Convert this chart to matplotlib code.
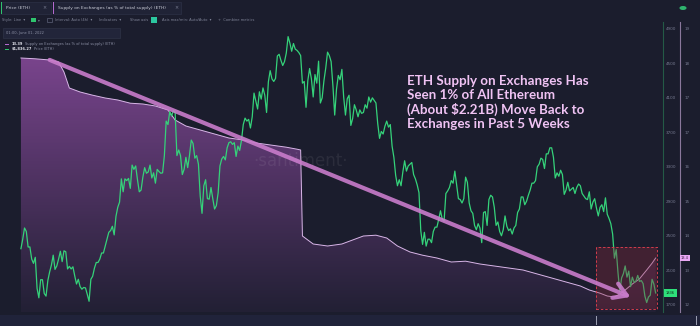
import numpy as np
import pandas as pd
import matplotlib
matplotlib.use('Agg')
import matplotlib.pyplot as plt
import matplotlib.dates as mdates
from matplotlib.colors import LinearSegmentedColormap
from matplotlib.patches import Rectangle
from matplotlib.transforms import blended_transform_factory

# ETH price (USD), daily
price_jun21 = [2350, 2460, 2590, 2550, 2370, 2370, 2230, 2180, 2250, 1890, 1780, 1990, 1990, 1830,
               1800, 1980, 2080, 2160, 2275]
price_jul21 = [2110, 2150, 2230, 2320, 2200, 2325, 2315, 2115, 2145, 2115, 2140, 2035, 1940, 1995,
               1910, 1880, 1900, 1895, 1820, 1740, 1995, 2030, 2125, 2190, 2190, 2230, 2300, 2300,
               2380, 2460, 2540]
price_aug21 = [2560, 2610, 2510, 2725, 2830, 2890, 3160, 3010, 3160, 3140, 3165, 3050, 3320, 3270,
               3310, 3150, 3010, 3030, 3180, 3290, 3225, 3240, 3320, 3170, 3230, 3110, 3270, 3245,
               3225, 3230, 3430]
price_sep21 = [3830, 3790, 3940, 3890, 3950, 3930, 3430, 3495, 3430, 3210, 3270, 3410, 3290, 3430,
               3610, 3570, 3400, 3430, 3330, 2960, 2760, 3080, 3150, 2930, 2925, 3060, 2930, 2810,
               2850, 3000]
price_oct21 = [3310, 3390, 3420, 3380, 3520, 3580, 3590, 3560, 3580, 3420, 3540, 3490, 3605, 3790,
               3865, 3830, 3850, 3750, 3880, 4155, 4060, 3970, 4170, 4085, 4215, 4130, 3930, 4285,
               4415, 4320, 4290]
price_nov21 = [4325, 4585, 4605, 4535, 4475, 4520, 4620, 4810, 4735, 4640, 4730, 4665, 4650, 4625,
               4590, 4270, 4290, 3990, 4300, 4440, 4320, 4110, 4370, 4270, 4525, 4040, 4100, 4300,
               4445, 4630]
price_dec21 = [4590, 4520, 4240, 3900, 4200, 4360, 4310, 4430, 4110, 3900, 4090, 4130, 3780, 3860,
               4020, 3960, 3880, 3960, 3920, 3930, 4020, 3980, 4110, 4050, 4100, 4070, 4040, 3800,
               3630, 3710, 3680]
price_jan22 = [3770, 3830, 3760, 3790, 3540, 3410, 3200, 3080, 3150, 3080, 3240, 3370, 3250, 3310,
               3330, 3350, 3210, 3160, 3090, 3000, 2560, 2400, 2540, 2380, 2460, 2460, 2420, 2550,
               2600, 2600, 2690]
price_feb22 = [2790, 2690, 2670, 2990, 3020, 3060, 3140, 3110, 3250, 3090, 2930, 2920, 2880, 2930,
               3180, 3120, 2880, 2790, 2760, 2620, 2570, 2640, 2590, 2420, 2770, 2780, 2620, 2920]
price_mar22 = [2970, 2950, 2830, 2620, 2660, 2550, 2500, 2570, 2730, 2610, 2560, 2580, 2520, 2590,
               2620, 2770, 2810, 2950, 2950, 2860, 2900, 2970, 3030, 3110, 3110, 3140, 3300, 3330,
               3400, 3385, 3280]
price_apr22 = [3450, 3450, 3520, 3520, 3410, 3170, 3230, 3190, 3260, 3210, 2980, 3030, 3120, 3020,
               3040, 3060, 2990, 3060, 3100, 3080, 2990, 2960, 2930, 2920, 3010, 2810, 2890, 2930,
               2820, 2730]
price_may22 = [2830, 2860, 2780, 2940, 2750, 2700, 2640, 2520, 2240, 2340, 2070, 1850, 2010, 2060,
               2150, 2020, 2090, 1910, 2020, 1960, 1975, 2040, 1970, 1980, 1945, 1800, 1725, 1790,
               1810, 1995, 1940]
price_jun22 = [1836.27]
price_starts = ['2021-06-12', '2021-07-01', '2021-08-01', '2021-09-01', '2021-10-01', '2021-11-01',
                '2021-12-01', '2022-01-01', '2022-02-01', '2022-03-01', '2022-04-01', '2022-05-01',
                '2022-06-01']

# Supply on exchanges (% of total supply)
supply_dates = ['2021-06-12', '2021-06-20', '2021-06-28', '2021-07-03', '2021-07-06', '2021-07-09',
                '2021-07-15', '2021-07-22', '2021-07-29', '2021-08-05', '2021-08-12', '2021-08-19',
                '2021-08-26', '2021-09-02', '2021-09-06', '2021-09-12', '2021-09-20', '2021-09-28',
                '2021-10-06', '2021-10-14', '2021-10-22', '2021-10-30', '2021-11-07', '2021-11-13',
                '2021-11-15', '2021-11-16', '2021-11-22', '2021-11-30', '2021-12-08', '2021-12-14',
                '2021-12-20', '2021-12-27', '2022-01-02', '2022-01-08', '2022-01-15', '2022-01-22',
                '2022-01-30', '2022-02-07', '2022-02-15', '2022-02-23', '2022-03-03', '2022-03-11',
                '2022-03-19', '2022-03-27', '2022-04-04', '2022-04-12', '2022-04-20', '2022-04-25',
                '2022-05-01', '2022-05-05', '2022-05-09', '2022-05-12', '2022-05-15', '2022-05-19',
                '2022-05-23', '2022-05-27', '2022-05-30', '2022-06-01']
supply_vals = [18.39, 18.37, 18.34, 18.29, 18.04, 17.64, 17.54, 17.46, 17.39, 17.34, 17.26, 17.24,
               17.19, 17.09, 16.84, 16.69, 16.59, 16.49, 16.39, 16.34, 16.26, 16.21, 16.16, 16.11,
               16.09, 13.94, 13.74, 13.69, 13.74, 13.84, 13.94, 13.96, 13.89, 13.69, 13.54, 13.46,
               13.39, 13.29, 13.31, 13.24, 13.19, 13.14, 13.09, 12.99, 12.89, 12.79, 12.69, 12.59,
               12.51, 12.44, 12.415, 12.49, 12.59, 12.74, 12.87, 13.09, 13.26, 13.39]

x_ticks = ['2021-06-07', '2021-07-01', '2021-08-01', '2021-09-01', '2021-10-01', '2021-11-01',
           '2021-12-01', '2022-01-01', '2022-02-01', '2022-03-01', '2022-04-01', '2022-05-01']
x_labels = ['07 Jun 21', '01 Jul 21', '01 Aug 21', '01 Sep 21', '01 Oct 21', '01 Nov 21',
            '01 Dec 21', '01 Jan 22', '01 Feb 22', '01 Mar 22', '01 Apr 22', '01 May 22']
price_ticks = [1700, 2100, 2500, 2900, 3300, 3700, 4100, 4500, 4900]

BG = '#1b1d2d'
GREEN = '#35d27a'
LILAC = '#d9b6e8'
W, H = 700, 326


def fx(x):
    return x / W


def fy(y):
    return 1 - y / H


price_dates = np.concatenate([pd.date_range(s, periods=len(v), freq='D').values
                              for s, v in zip(price_starts, [price_jun21, price_jul21, price_aug21,
                                                             price_sep21, price_oct21, price_nov21,
                                                             price_dec21, price_jan22, price_feb22,
                                                             price_mar22, price_apr22, price_may22,
                                                             price_jun22])])
price_vals = np.concatenate([price_jun21, price_jul21, price_aug21, price_sep21, price_oct21,
                             price_nov21, price_dec21, price_jan22, price_feb22, price_mar22,
                             price_apr22, price_may22, price_jun22])
px = mdates.date2num(price_dates)
sx = mdates.date2num(pd.to_datetime(supply_dates))
sv = np.array(supply_vals)

fig = plt.figure(figsize=(7, 3.26), dpi=100, facecolor=BG)

# main axes: price on top, supply behind
ax = fig.add_axes([0, fy(312), fx(660), (312 - 22) / H])
ax2 = ax.twinx()
ax.set_zorder(ax2.get_zorder() + 1)
ax.patch.set_visible(False)
ax2.patch.set_visible(False)

ppd = 1.793  # pixels per day
x0 = mdates.date2num(pd.Timestamp('2021-07-01')) - 55 / ppd
x1 = x0 + 660 / ppd
ax.set_xlim(x0, x1)
ax.set_ylim(1615.6, 4979.6)
ax2.set_ylim(12.04, 19.29)

# supply fill with vertical gradient
poly = ax2.fill_between(sx, sv, 12.04, color='none', lw=0)
cmap = LinearSegmentedColormap.from_list('sup', [(0.60, 0.32, 0.68, 0.06), (0.62, 0.33, 0.70, 0.82)])
grad = np.linspace(0, 1, 256).reshape(-1, 1)
img = ax2.imshow(grad, extent=[x0, x1, 12.04, 19.29], origin='lower', cmap=cmap, aspect='auto',
                 interpolation='bilinear')
img.set_clip_path(poly.get_paths()[0], transform=ax2.transData)
ax2.plot(sx, sv, color=LILAC, lw=0.7)

ax.plot(px, price_vals, color=GREEN, lw=0.9, solid_joinstyle='round')

# axes styling
for a in (ax, ax2):
    for s in ('top', 'left', 'bottom'):
        a.spines[s].set_visible(False)
ax.spines['right'].set_position(('axes', 663 / 660))
ax.spines['right'].set_color('#245a46')
ax.spines['right'].set_linewidth(0.8)
ax2.spines['right'].set_position(('axes', 680 / 660))
ax2.spines['right'].set_color('#8a789c')
ax2.spines['right'].set_linewidth(0.8)

ax.yaxis.tick_right()
ax.set_yticks(price_ticks)
ax.set_yticklabels([str(p) for p in price_ticks])
ax.tick_params(axis='y', length=0, pad=2, labelsize=3, labelcolor='#767a90')

span_p = 4979.6 - 1615.6
s_ticks = [12.04 + (p - 1615.6) / span_p * (19.29 - 12.04) for p in price_ticks]
ax2.set_yticks(s_ticks)
ax2.set_yticklabels(['%.0f' % s for s in s_ticks])
ax2.tick_params(axis='y', length=0, pad=3, labelsize=3, labelcolor='#767a90')

ax.set_xticks(mdates.date2num(pd.to_datetime(x_ticks)))
ax.set_xticklabels(x_labels)
ax.tick_params(axis='x', length=0, pad=-6, labelsize=3, labelcolor='#6f7389')
ax2.set_xticks([])

# current value markers on the axes
tr = blended_transform_factory(ax.transAxes, ax.transData)
ax.text(666 / 660, price_vals[-1], '1836', transform=tr, fontsize=2.6, color='#0f2a1a',
        va='center', ha='left', clip_on=False,
        bbox=dict(boxstyle='square,pad=0.5', fc='#2ee07a', ec='none'))
tr2 = blended_transform_factory(ax2.transAxes, ax2.transData)
ax2.text(681 / 660, supply_vals[-1], '13.4', transform=tr2, fontsize=2.6, color='#3a1f44',
         va='center', ha='left', clip_on=False,
         bbox=dict(boxstyle='square,pad=0.4', fc='#eaa8f5', ec='none'))

# watermark
ax.text(0.455, 0.52, '\u00b7santiment\u00b7', transform=ax.transAxes, fontsize=12, color='white',
        alpha=0.07, ha='center', va='center')

# red dashed box over last weeks
bx0 = mdates.date2num(pd.Timestamp('2022-04-29'))
bx1 = mdates.date2num(pd.Timestamp('2022-06-01 12:00'))
ax.add_patch(Rectangle((bx0, 1650), bx1 - bx0, 2370 - 1650, fc='#8a2a3c', alpha=0.35, ec='none',
                       zorder=3, clip_on=False))
ax.add_patch(Rectangle((bx0, 1650), bx1 - bx0, 2370 - 1650, fc='none', ec='#d23c4c', lw=0.7,
                       ls=(0, (2.5, 2)), zorder=4, clip_on=False))

# trend arrow
ax.annotate('', xy=(mdates.date2num(pd.Timestamp('2022-05-18')), 1790),
            xytext=(mdates.date2num(pd.Timestamp('2021-06-28')), 4540),
            arrowprops=dict(arrowstyle='->,head_length=0.9,head_width=0.55', color='#c97ccb',
                            lw=3, alpha=0.9, shrinkA=0, shrinkB=0), zorder=5)

fig.text(fx(407), fy(75), 'ETH Supply on Exchanges Has\nSeen 1% of All Ethereum\n'
         '(About $2.21B) Move Back to\nExchanges in Past 5 Weeks',
         fontsize=9.6, fontweight='bold', family='Lato', color='#f0c3f4', va='top', ha='left',
         linespacing=1.2)

# top toolbar
def box(x, y, w, h, fc, ec='none', lw=0.5):
    fig.add_artist(Rectangle((fx(x), fy(y + h)), w / W, h / H, transform=fig.transFigure,
                             fc=fc, ec=ec, lw=lw))

box(1, 2, 50, 12, '#202336', '#2c3046')
box(1, 2, 1.2, 12, '#2fc46e')
fig.text(fx(6), fy(8), 'Price (ETH)', fontsize=3.2, color='#c9cbd6', va='center')
fig.text(fx(42), fy(8), '\u00d7', fontsize=3.5, color='#7d8196', va='center')
box(53, 2, 128, 12, '#202336', '#2c3046')
box(53, 2, 1.2, 12, '#b46ad0')
fig.text(fx(58), fy(8), 'Supply on Exchanges (as % of total supply) (ETH)', fontsize=3.2,
         color='#c9cbd6', va='center')
fig.text(fx(174), fy(8), '\u00d7', fontsize=3.5, color='#7d8196', va='center')

tb = '#7f8397'
fig.text(fx(2), fy(20), 'Style: Line  \u25be', fontsize=2.6, color=tb, va='center')
box(31, 18, 5, 4, '#2fc46e')
fig.text(fx(38), fy(20), '\u25be', fontsize=2.6, color=tb, va='center')
box(47, 18, 5, 4, 'none', '#5d6178')
fig.text(fx(55), fy(20), 'Interval: Auto (4h)  \u25be', fontsize=2.6, color=tb, va='center')
fig.text(fx(99), fy(20), 'Indicators  \u25be', fontsize=2.6, color=tb, va='center')
fig.text(fx(130), fy(20), 'Show axis', fontsize=2.6, color=tb, va='center')
box(151, 17, 6, 6, '#2cc7a0')
fig.text(fx(162), fy(20), 'Axis max/min: Auto/Auto  \u25be', fontsize=2.6, color=tb, va='center')
fig.text(fx(218), fy(20), '+  Combine metrics', fontsize=2.6, color=tb, va='center')
fig.add_artist(plt.Circle((fx(683), fy(8)), 0.004, transform=fig.transFigure, color='#2fb36e'))

# hover info box
box(3, 28, 117, 10, '#22253a', '#2f3347')
fig.text(fx(6), fy(33), '01:00, June 01, 2022', fontsize=2.6, color='#8a8ea3', va='center')
box(5, 43.5, 4, 1, '#b46ad0')
fig.text(fx(12), fy(44), '13.39', fontsize=2.6, color='#e0e1ea', va='center', fontweight='bold')
fig.text(fx(25), fy(44), 'Supply on Exchanges (as % of total supply) (ETH)', fontsize=2.6,
         color='#8a8ea3', va='center')
box(5, 48.5, 4, 1, '#2fc46e')
fig.text(fx(12), fy(49), '$1,836.27', fontsize=2.6, color='#e0e1ea', va='center', fontweight='bold')
fig.text(fx(34), fy(49), 'Price (ETH)', fontsize=2.6, color='#8a8ea3', va='center')

# navigator strip
box(0, 315, 700, 11, '#20233a')
nav = fig.add_axes([fx(597), fy(325), 100 / W, 8 / H])
nav.axis('off')
nav.plot(px, price_vals, color='#2fb36e', lw=0.5, alpha=0.7)
nav2 = nav.twinx()
nav2.axis('off')
nav2.plot(sx, sv, color='#9a6ab0', lw=0.5, alpha=0.7)
box(596, 316, 1.2, 9, '#9a9db0')
box(696, 316, 1.2, 9, '#9a9db0')

fig.savefig('out.png', dpi=100, facecolor=BG)
